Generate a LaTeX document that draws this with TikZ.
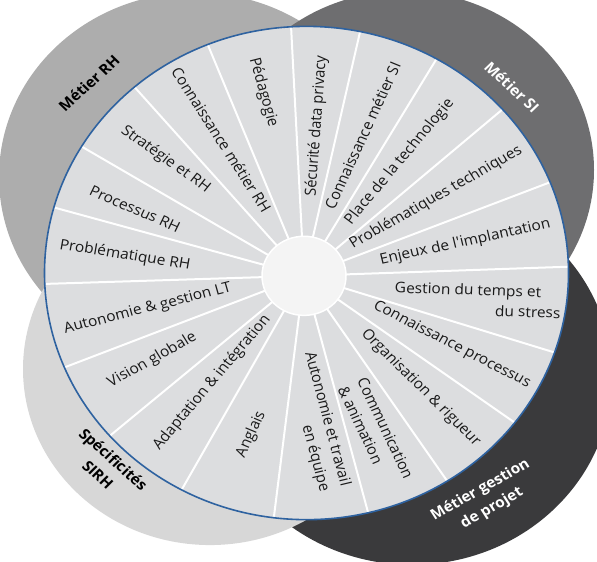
\documentclass[tikz,border=0pt]{standalone}
\usepackage{fontspec}
\setmainfont{Open Sans}
\usepackage{xcolor}
\definecolor{rhgray}{HTML}{ADADAD}
\definecolor{sigray}{HTML}{6E6E70}
\definecolor{gpdark}{HTML}{3A3A3C}
\definecolor{sirhgray}{HTML}{D7D7D7}
\definecolor{segfill}{HTML}{DCDDDF}
\definecolor{hubfill}{HTML}{F4F4F4}
\definecolor{rimblue}{HTML}{2E62A0}

\begin{document}
\begin{tikzpicture}[
    x=1pt, y=1pt, yscale=0.94137, transform shape,
    zone/.style={fill=#1},
    spoke/.style={draw=white, line width=2pt},
    segtext/.style={font=\fontsize{15.5}{21.5}\selectfont, inner sep=0pt, text=black!90},
    zonetext/.style={font=\bfseries\fontsize{15.5}{22.5}\selectfont, align=center, inner sep=0pt}
]
\useasboundingbox (0,0) rectangle (597,597);
\clip (0,0) rectangle (597,597);

\coordinate (ctr) at (306.5,307);
\coordinate (hub) at (304,304);

\fill[zone=rhgray] (195,409) circle (196);
\fill[zone=sigray] (404,416.5) circle (190);
\fill[zone=gpdark] (412,197) circle (200);
\fill[zone=sirhgray] (210,205) circle (187);

\fill[segfill] (ctr) circle (262);
\begin{scope}
  \clip (ctr) circle (262);
  \foreach \a in {92.8,77.8,60.1,41.7,22.0,2.1,-18.0,-36.5,-56.7,-75.7,
                  -96.7,-118.3,-138.8,-157.9,-178.1,163.8,148.3,130.2,111.4}
    \draw[spoke] (hub) -- ++(\a:320);
\end{scope}
\draw[rimblue, line width=1.6pt] (ctr) circle (262);
\draw[fill=hubfill, draw=white, line width=1.5pt] (hub) circle (42);

\node[segtext, rotate=86] (secu) at (316.7,463) {Sécurité data privacy};
\node[segtext, rotate=66.5] (connsi) at (362.4,453.1) {Connaissance métier SI};
\node[segtext, rotate=51.5] (techno) at (399.7,425) {Place de la technologie};
\node[segtext, rotate=31] (probtech) at (435.9,387) {Problématiques techniques};
\node[segtext, rotate=12.8] (enjeux) at (465.2,339.7) {Enjeux de l\textquotesingle implantation};
\node[segtext, rotate=-2, align=right] (temps) at (477.7,278.3) {Gestion du temps et\hspace*{20pt}\\du stress};
\node[segtext, rotate=-28.5] (connproc) at (451.9,230.8) {Connaissance processus};
\node[segtext, rotate=-46.3] (orga) at (420.6,185.1) {Organisation \& rigueur};
\node[segtext, rotate=-65.8, align=left] (comm) at (375.8,137.9) {Communication\\\& animation};
\node[segtext, rotate=-75.8, align=right] (equipe) at (316.5,149.1) {Autonomie et travail\\en équipe};
\node[segtext, rotate=66] (anglais) at (251.2,135.4) {Anglais};
\node[segtext, rotate=51.4] (adapt) at (212,190.8) {Adaptation \& intégration};
\node[segtext, rotate=30.3] (vision) at (152.3,214.4) {Vision globale};
\node[segtext, rotate=15] (autolt) at (147.7,268.9) {Autonomie \& gestion LT};
\node[segtext, rotate=-9.5] (probrh) at (124.9,325.6) {Problématique RH};
\node[segtext, rotate=-24.6] (procrh) at (135.1,375.1) {Processus RH};
\node[segtext, rotate=-37] (strat) at (165.6,427.6) {Stratégie et RH};
\node[segtext, rotate=-58.7] (connrh) at (221.5,448.5) {Connaissance métier RH};
\node[segtext, rotate=-75] (peda) at (263.4,498.8) {Pédagogie};

\node[zonetext, rotate=44] (rh) at (89,508.8) {Métier RH};
\node[zonetext, text=white, rotate=-44.5] (si) at (512,504.6) {Métier SI};
\node[zonetext, text=white, rotate=31] (gp) at (486.2,66.7) {Métier gestion\\de projet};
\node[zonetext, rotate=-43.4] (sirh) at (105.8,101) {Spécificités\\SIRH};
\end{tikzpicture}
\end{document}
